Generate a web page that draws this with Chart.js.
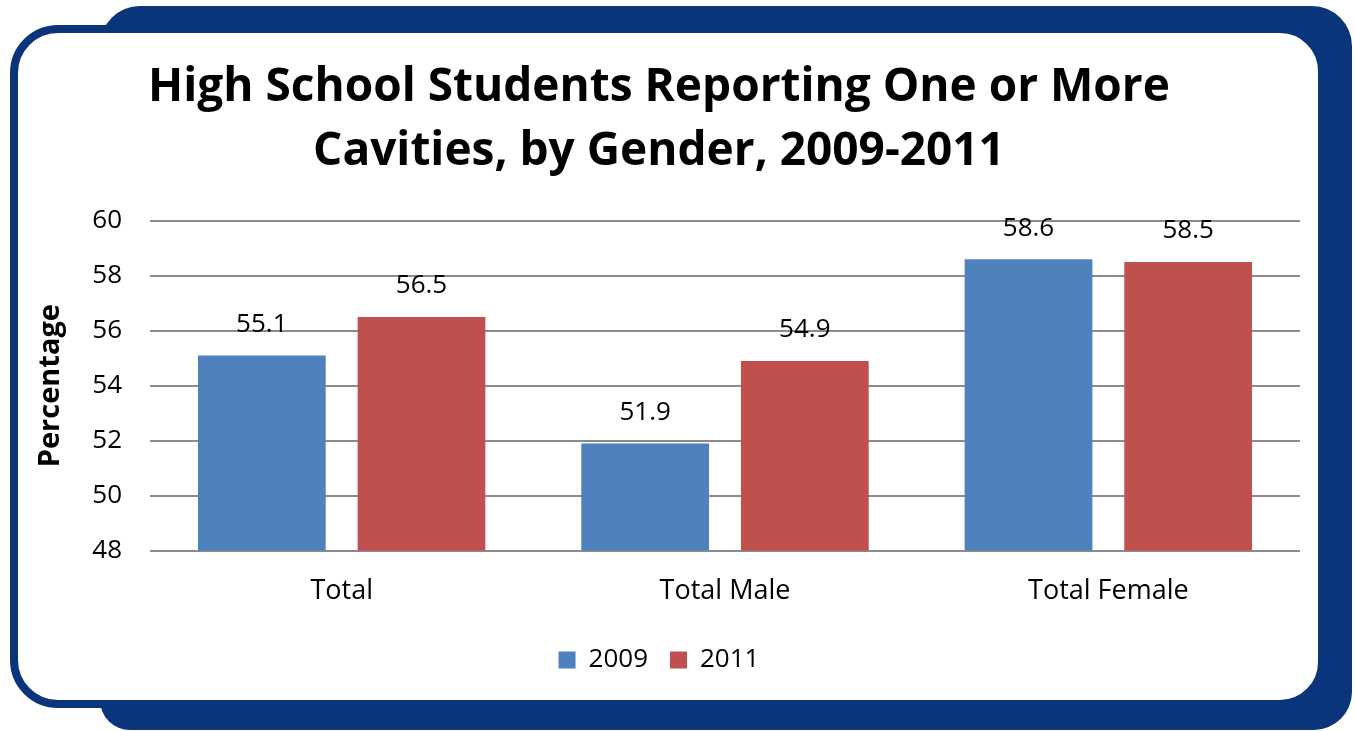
<!DOCTYPE html>
<html>
<head>
<meta charset="utf-8">
<script src="https://cdn.jsdelivr.net/npm/chart.js@4/dist/chart.umd.min.js"></script>
<style>
  body { margin: 0; background: #fff; width: 1355px; height: 731px; overflow: hidden; position: relative; }
  #back { position: absolute; left: 100px; top: 6px; width: 1252px; height: 724px;
          background: #0b357a; border-radius: 40px 40px 38px 30px; }
  #front { position: absolute; left: 10px; top: 25px; width: 1300px; height: 667px;
           background: #fff; border: 8px solid #0b357a; border-radius: 48px 46px 46px 48px; }
  #wrap { position: absolute; left: 18px; top: 33px; width: 1300px; height: 667px; }
</style>
</head>
<body>
<div id="back"></div>
<div id="front"></div>
<div id="wrap"><canvas id="chart"></canvas></div>
<script>
const categories = ['Total', 'Total Male', 'Total Female']
const years = ['2009', '2011']
const values2009 = [55.1, 51.9, 58.6]
const values2011 = [56.5, 54.9, 58.5]
const yTicks = [48, 50, 52, 54, 56, 58, 60]

const fontName = "'Open Sans', sans-serif"

////////// value labels above the bars //////////
const barLabels = {
  id: 'barLabels',
  afterDatasetsDraw: chart => {
    const ctx = chart.ctx
    ctx.save()
    ctx.font = '26px ' + fontName
    ctx.fillStyle = '#000'
    ctx.textAlign = 'center'
    ctx.textBaseline = 'middle'
    chart.data.datasets.forEach((dataset, i) => {
      chart.getDatasetMeta(i).data.forEach((bar, j) => {
        ctx.fillText(dataset.data[j].toFixed(1), bar.x, bar.y - 31)
      })
    })
    ctx.restore()
  }
}

var ctx = document.getElementById('chart').getContext('2d')

var chart = new Chart(ctx, {
  type: 'bar',
  data: {
    labels: categories,
    datasets: [{
      label: years[0],
      backgroundColor: '#4f81bd',
      data: values2009,
    }, {
      label: years[1],
      backgroundColor: '#c0504d',
      data: values2011,
    }]
  },
  options: {
    responsive: true,
    maintainAspectRatio: false,
    animation: false,
    categoryPercentage: 0.833,
    barPercentage: 0.8,
    layout: { padding: { left: 0, right: 18, top: 0, bottom: 17 } },
    plugins: {
      tooltip: { enabled: false },
      title: {
        display: true,
        text: ['High School Students Reporting One or More', 'Cavities, by Gender, 2009-2011'],
        color: '#000',
        font: { family: fontName, size: 46, weight: 'bold', lineHeight: 1.41 },
        padding: { top: 22, bottom: 36 }
      },
      legend: {
        position: 'bottom',
        labels: {
          color: '#000',
          font: { family: fontName, size: 26 },
          boxWidth: 17,
          boxHeight: 17,
          padding: 22
        }
      }
    },
    scales: {
      x: {
        grid: { display: false },
        border: { display: false },
        ticks: { color: '#000', font: { family: fontName, size: 27 }, padding: 17 }
      },
      y: {
        min: 48,
        max: 60,
        afterBuildTicks: scale => {
          scale.ticks = yTicks.map(v => ({ value: v }))
        },
        afterFit: scale => { scale.width = 132 },
        grid: { color: '#8c8c8c', lineWidth: 2, drawTicks: false },
        border: { display: false },
        ticks: { color: '#000', font: { family: fontName, size: 26 }, padding: 28 },
        title: {
          display: true,
          text: 'Percentage',
          color: '#000',
          font: { family: fontName, size: 29, weight: 'bold' },
          padding: { top: 15, bottom: 0 }
        }
      }
    }
  },
  plugins: [barLabels]
})
</script>
</body>
</html>
